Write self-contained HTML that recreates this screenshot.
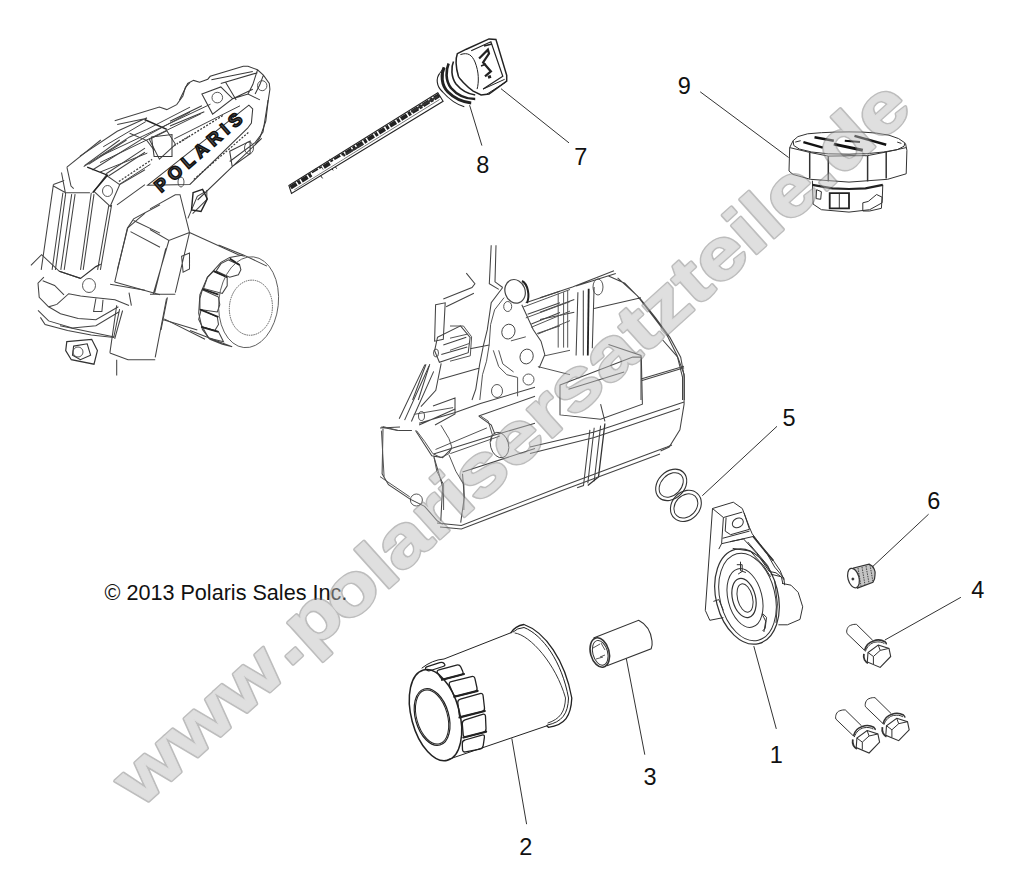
<!DOCTYPE html>
<html><head><meta charset="utf-8">
<style>
html,body{margin:0;padding:0;background:#fff;}
body{width:1015px;height:887px;overflow:hidden;position:relative;}
svg{position:absolute;left:0;top:0;}
.lbl{font-family:"Liberation Sans",sans-serif;font-size:23.5px;fill:#111;}
</style></head><body>
<svg width="1015" height="887" viewBox="0 0 1015 887">
<g id="parts" fill="none" stroke="#222" stroke-width="1" stroke-linejoin="round" stroke-linecap="round">

<g id="filter2">
<ellipse cx="435.5" cy="715.2" rx="24.1" ry="46.7" transform="rotate(-15 435.5 715.2)" stroke-width="1.5"/>
<ellipse cx="432.1" cy="717" rx="16.7" ry="29.1" transform="rotate(-15.7 432.1 717)" stroke-width="1.2"/>
<ellipse cx="432.1" cy="717" rx="15.4" ry="27.8" transform="rotate(-15.7 432.1 717)" stroke-width="1"/>
<path d="M422,668 Q432,660 444,659 L511,632.7" />
<path d="M447.8,759.6 L546.9,725.8" />
<path d="M511,632.7 Q515,626 524,624.5 C545,632 565,660 571.8,698 C571,716 565,725 548.4,727.3 L546.9,725.8" stroke-width="1.3"/>
<path d="M513,632 Q517,628 524,627.5 C543,635 562,662 568.5,698 C568,714 562,722 547.5,725" stroke-width="1"/>
<path d="M515,633 C530,635 556,664 565.5,698 C565,712 560,719 548,723" stroke-width="0.9"/>
<path d="M427.4,666.6 L439.7,662.6 Q442.6,661.7 444.1,663.5 L444.4,663.8 Q445.9,665.6 443.0,666.5 L430.6,670.5 Q427.7,671.4 426.3,669.6 L425.9,669.3 Q424.5,667.5 427.4,666.6Z M439.0,669.9 L456.6,665.1 Q459.5,664.3 460.8,667.0 L462.7,671.3 Q464.0,674.0 461.1,674.8 L444.9,679.0 Q442.0,679.8 440.4,677.3 L437.7,673.2 Q436.1,670.7 439.0,669.9Z M451.3,681.7 L471.5,676.6 Q474.4,675.9 475.0,678.8 L477.0,688.0 Q477.6,690.9 474.7,691.6 L457.2,696.0 Q454.3,696.7 453.2,693.9 L449.5,685.2 Q448.4,682.4 451.3,681.7Z M460.4,699.1 L479.9,693.6 Q482.8,692.8 483.1,695.8 L484.5,708.0 Q484.8,711.0 481.9,711.7 L462.4,716.7 Q459.5,717.4 459.2,714.4 L457.8,702.9 Q457.5,699.9 460.4,699.1Z M465.0,719.8 L482.5,714.4 Q485.4,713.5 485.5,716.5 L486.0,728.7 Q486.1,731.7 483.2,732.4 L466.3,736.8 Q463.4,737.5 463.2,734.5 L462.3,723.7 Q462.1,720.7 465.0,719.8Z M465.0,740.0 L481.9,735.1 Q484.8,734.3 484.4,737.3 L483.2,745.6 Q482.8,748.6 479.9,749.2 L465.6,751.9 Q462.7,752.5 462.5,749.5 L462.3,743.8 Q462.1,740.8 465.0,740.0Z" stroke-width="1.3"/>
<path d="M442,679.8 L464,674 M454.3,696.7 L477.6,690.9 M459.5,717.4 L484.8,711 M463.4,737.5 L486.1,731.7" stroke-width="2.2"/>

</g>
</g>
<!--GEN-->
<!--a_topleft.svg-->
<g fill="none" stroke="#444" stroke-width="1.05">
<path d="M80.0,156.1 L117.2,131.3 L147.0,117.7 M114.7,120.8 L159.4,107.1 L166.8,109.6 L176.7,104.6 L182.9,96.0 L185.4,87.3 L190.0,82.3 M117.2,124.5 L147.0,118.3 M129.6,133.2 L147.0,140.6 L154.4,150.5 M83.7,166.6 L129.6,136.9 L147.0,129.4 L190.0,107.1 M92.4,170.0 L149.4,134.4 L190.0,112.1 M149.4,139.4 L166.8,130.7 L175.5,144.3 L159.4,159.2Z"/>
<path d="M144.5,119.5 L166.8,129.4" stroke="#222" stroke-width="1.5"/>
<path d="M174.2,145.6 L190.0,135.6" stroke-dasharray="1.5 1.5" stroke-width="1.5"/>
</g>
<g fill="none" stroke="#444" stroke-width="1.05">
<path d="M66.9,167.1 L100.8,140.0 M66.9,167.1 L71.0,186.0 L73.7,188.7 M84.5,165.7 L119.7,140.0 M88.6,164.4 L126.5,140.0 M106.2,173.8 L145.0,148.1 M108.9,175.8 L145.0,152.2 M119.7,184.6 L145.0,169.8 M117.0,204.9 L145.0,184.6 M94.0,191.4 L106.2,175.2 L119.7,184.6 L110.2,206.3Z M53.4,184.6 L41.2,269.9 M62.9,192.8 L52.1,269.9 M65.6,194.1 L55.4,269.9 M71.7,194.1 L60.8,269.9 M75.1,194.1 L64.2,269.9 M91.3,192.8 L80.5,269.9 M94.0,194.1 L83.2,269.9 M108.9,204.9 L97.6,269.9 M111.6,204.9 L100.4,269.9 M53.4,186.0 L65.6,192.8 L89.9,192.8 M53.4,184.6 L64.2,180.6 M61.5,172.5 L65.6,194.1 M127.8,227.9 L145.0,213.1 M127.8,227.9 L117.3,269.9"/>
<path d="M87.2,167.1 L107.5,175.2 L92.6,192.8" stroke="#222" stroke-width="1.4"/>
</g>
<g fill="none" stroke="#3a3a3a" stroke-width="1.05">
<path d="M179.5,99.9 L184.2,90.5 L187.7,83.4 L193.6,80.4 L199.6,82.2 L207.8,79.2 L210.2,76.3 L243.3,66.2 L248.0,66.2 L257.5,69.8 L263.4,75.1 L269.3,83.4 L269.9,89.3 L268.1,101.1 L265.8,121.2 L259.9,137.8 L255.1,145.0 M257.5,69.8 L252.8,84.6 L248.0,94.0 M263.4,75.1 L259.9,84.6 L255.1,94.0 M211.4,79.8 L252.8,71.6 M220.8,83.4 L257.5,72.7 M201.9,94.0 L220.8,86.9 L232.7,98.7 L212.6,114.1Z M225.6,82.2 L236.2,99.9 M170.0,121.2 L201.9,105.8 M170.0,125.9 L204.3,111.8 M259.9,99.9 L248.0,94.0 L232.7,98.7 M232.7,98.7 L252.8,89.3"/>
<path d="M179.5,142.5 L223.2,115.3" stroke-dasharray="2 1.5" stroke-width="1.3"/>
</g>
<g fill="none" stroke="#3a3a3a" stroke-width="1.05">
<path d="M147.7,185.2 L248.9,105.1 L252.7,109.0 L251.4,123.1 L247.6,128.2 L189.9,184.5Z M197.6,200.0 L261.7,138.4 M268.1,100.0 L263.0,132.0 L255.3,142.3 L229.7,161.5 M229.7,151.2 L250.1,141.0 L250.1,153.8 L232.2,166.6Z M151.5,137.1 L172.0,134.6 L172.0,156.4 L154.1,156.4Z"/>
<path d="M193.8,179.4 L248.9,132.0" stroke-dasharray="2 1.5" stroke-width="1.2"/>
</g>
<g fill="none" stroke="#444" stroke-width="1.05">
<path d="M150.0,208.9 L175.3,194.7 L180.0,194.7 L189.5,232.6 M150.0,229.5 L168.9,240.5 L189.5,232.6 M168.9,240.5 L153.2,294.2 M165.8,248.4 L154.7,292.6 M189.5,232.6 L175.3,292.6 M150.0,294.2 L175.3,294.2 M187.9,218.4 L197.3,196.3 L205.2,191.6 M192.6,213.7 L206.8,199.5 L206.8,190.0 M189.5,232.6 L238.4,254.7 L244.7,256.3 M167.4,297.3 L161.0,330.0 M162.6,319.4 L197.3,330.0 M181.6,256.3 L189.5,253.1 L189.5,268.9 L183.1,272.1Z"/>
</g>
<g fill="none" stroke="#444" stroke-width="1.05">
<path d="M127.3,228.4 L133.6,218.9 L160.0,204.7 M127.3,228.4 L114.7,282.1 M133.6,220.5 L160.0,233.1 M130.5,231.6 L160.0,247.3 M114.7,282.1 L160.0,294.7 M122.6,310.5 L114.7,338.9"/>
</g>
<g fill="none" stroke="#444" stroke-width="1.05">
<path d="M116.7,305.3 L109.9,352.9 M166.5,298.5 L155.2,357.4 M109.9,352.9 L128.0,359.7 L155.2,359.7 M116.7,359.7 L116.7,375.6 M60.0,325.7 L114.4,337.0 M164.2,318.9 L205.0,339.3"/>
<path d="M66.8,341.6 L91.7,339.3 L97.4,350.6 L94.0,364.2 L71.3,359.7 L65.7,350.6Z" stroke="#333" stroke-width="1.2"/>
<path d="M73.6,346.1 L87.2,343.8 L90.6,355.2 L80.4,359.7 L72.5,355.2Z" stroke="#333" stroke-width="1.1"/>
</g>
<g fill="none" stroke="#444" stroke-width="1.05">
<path d="M218.5,245.0 L243.3,254.9 L266.9,266.1 M190.0,330.6 L222.3,343.0 L232.2,346.7 M199.9,294.6 L198.7,313.2 L202.4,329.4 L209.9,339.3 L222.3,344.3 L232.2,346.7 M199.9,294.6 L207.4,277.3 L221.0,262.4 L229.7,257.4 L243.3,254.9"/>
<path d="M228.5,259.9 L239.6,264.9 L240.9,269.8 L238.4,274.8 L229.7,277.3 L216.1,271.1 L221.0,263.6Z" stroke="#444"/>
<path d="M213.6,271.1 L227.2,277.3 L227.2,285.9 L222.3,293.4 L203.6,288.4 L207.4,277.3Z" stroke="#444"/>
<path d="M202.4,289.7 L218.5,297.1 L219.8,304.6 L217.3,312.0 L199.9,309.5 L199.9,298.3Z" stroke="#444"/>
<path d="M201.2,309.5 L217.3,317.0 L218.5,324.4 L214.8,330.6 L202.4,326.9 L198.7,319.4Z" stroke="#444"/>
<path d="M202.4,326.9 L218.5,331.8 L223.5,341.8 L208.6,338.1Z" stroke="#444"/>
<path d="M213.6,271.1 L227.2,277.3" stroke="#222" stroke-width="1.8"/>
<path d="M202.4,289.0 L218.5,294.6" stroke="#222" stroke-width="1.8"/>
<path d="M199.9,309.5 L218.5,317.0" stroke="#222" stroke-width="1.8"/>
<path d="M201.2,326.9 L218.5,331.8" stroke="#222" stroke-width="1.8"/>
<path d="M229.7,258.6 L239.6,264.9" stroke="#222" stroke-width="1.8"/>
</g>
<g fill="none" stroke="#444" stroke-width="1.05">
<path d="M30.9,265.4 L41.6,254.7 L59.3,271.3 L80.6,278.4 M43.9,277.2 L38.0,283.1 L39.2,297.3 L48.6,306.8 L56.9,304.4 L68.7,293.7 L80.6,296.1 L91.2,297.3 L114.9,299.7 L129.0,305.6 M42.7,280.7 L54.6,285.5 L64.0,294.9 M48.6,306.8 L60.5,313.8 L78.2,318.6 L95.9,319.8 L118.4,306.8 M38.0,310.3 L48.6,320.9 L72.3,328.0 L95.9,325.7 L119.6,311.5 M40.4,317.4 L45.1,324.5 L67.6,330.4 L91.2,335.1 L113.7,337.5 L119.6,309.1 M95.9,298.5 L93.6,311.5 L101.9,311.5 L103.0,299.7 M110.1,284.3 L145.0,290.2 M129.0,292.6 L131.4,305.6"/>
<path d="M59.3,271.3 L80.6,278.4 L95.9,266.6 L100.7,264.2" stroke="#333" stroke-width="1.2"/>
</g>
<g fill="none" stroke="#444" stroke-width="1">
<path d="M100.0,156.3 L210.5,104.2 M100.0,162.6 L201.0,113.7 M100.0,172.1 L147.3,153.1 M174.2,138.9 L240.0,105.8 M103.2,146.8 L145.8,121.6 M118.9,184.7 L150.5,164.2"/>
<path d="M118.9,181.5 L152.1,159.4" stroke-dasharray="2 1.5" stroke-width="1.3"/>
<path d="M193.1,192.6 L202.6,189.4 L207.3,198.9 L201.0,211.5 L191.5,209.9Z" stroke="#222" stroke-width="1.4"/>
</g>
<!--a_topleft_extra.svg-->
<g fill="none" stroke="#555" stroke-width="0.9">
<ellipse cx="248.6" cy="302.2" rx="29.8" ry="45.6" transform="rotate(6 248.6 302.2)"/>
<ellipse cx="250.9" cy="307.7" rx="21.5" ry="27.6" transform="rotate(5 250.9 307.7)" stroke-dasharray="1.5 0.8"/>
<ellipse cx="217.3" cy="97.6" rx="5.3" ry="5.3" stroke="#444"/>
<ellipse cx="262.2" cy="85.7" rx="4.7" ry="5" stroke="#444"/>

<ellipse cx="107.5" cy="191" rx="5" ry="5.5" stroke="#444"/>
<ellipse cx="249" cy="148" rx="4.5" ry="6" stroke="#444"/>
<ellipse cx="89" cy="285.5" rx="6.5" ry="7" stroke="#444"/>
<ellipse cx="78" cy="352" rx="5" ry="5" stroke="#444"/>
<ellipse cx="181" cy="182" rx="3" ry="5" stroke="#444"/>
<text x="0" y="0" transform="translate(160.9,193.3) rotate(-41.2)" style="font-family:'Liberation Sans',sans-serif;font-weight:bold;font-size:18px;letter-spacing:5px" fill="#555" stroke="#111" stroke-width="1.5">POLARIS</text>
</g>

<!--b_engine.svg-->
<g fill="none" stroke="#444" stroke-width="1.05">
<path d="M383.0,428.7 L382.1,473.8 L388.5,484.7 L410.1,499.1 L424.6,506.3 L437.2,520.8 L442.6,524.4 M381.2,426.9 L397.5,430.5 L411.9,430.5 M415.5,430.5 L431.8,455.8 L442.6,457.6 L451.6,448.6 M419.1,423.3 L455.2,412.5 L480.5,403.5 L535.0,387.2 M478.7,416.1 L535.0,396.2 M478.7,416.1 L491.3,425.1 L494.9,434.1 M433.6,454.0 L491.3,435.9 L535.0,423.3 M462.5,472.0 L535.0,448.6 M433.6,455.8 L439.0,473.8 L442.6,486.5 L440.8,520.8 M462.5,473.8 L464.3,497.3 L460.7,522.6 M419.1,425.1 L455.2,408.9"/>
</g>
<g fill="none" stroke="#444" stroke-width="1.05">
<path d="M662.7,340.0 L677.7,357.1 L684.1,374.3 L684.1,404.2 L679.9,429.9 L669.2,447.0 L660.6,450.9 M530.0,447.0 L594.2,432.1 L684.1,402.1 M530.0,453.5 L594.2,437.4 L679.9,408.5 M641.3,380.7 L684.1,367.8 M594.2,427.8 L587.8,483.4 M600.6,425.6 L594.2,481.3 M560.0,385.0 L632.8,357.1 L641.3,357.1 L642.4,404.2 L600.6,419.2 L560.0,414.9Z M568.5,389.2 L624.2,372.1 M600.6,404.2 L604.9,421.4"/>
<path d="M589.9,429.9 L583.5,485.6 L577.1,487.7" stroke="#444"/>
<path d="M604.9,423.5 L598.5,477.0 L587.8,485.6" stroke="#333" stroke-width="1.3"/>
</g>
<g fill="none" stroke="#444" stroke-width="1.05">
<path d="M491.2,245.3 L489.3,283.7 L498.8,289.4 M496.0,245.3 L495.0,281.8 L502.7,287.5 M502.7,287.5 L491.2,302.8 L487.3,329.7 L483.5,345.0 L479.7,364.2 L475.8,389.1 L472.0,400.0 M521.8,304.8 L533.3,329.7 L541.0,341.2 L544.8,354.6 L539.1,368.0 M435.6,304.8 L445.2,302.8 L443.3,339.3 L434.6,341.2Z M443.3,299.0 L472.0,287.5 L474.9,283.7 L466.3,273.1 M446.1,306.7 L473.9,293.3 M437.5,337.3 L460.5,325.8 L470.1,337.3 L468.2,352.7 L439.4,362.3 L434.6,350.8Z M443.3,345.0 L466.3,337.3 M441.3,354.6 L467.2,346.9 M470.1,348.8 L489.3,345.0 M426.0,364.2 L412.6,400.0 M429.8,364.2 L418.3,400.0 M439.4,379.5 L479.7,368.0 M525.7,302.8 L560.0,291.3 M527.6,314.3 L560.0,302.8 M531.4,323.9 L560.0,312.4 M537.2,333.5 L560.0,325.8"/>
</g>
<g fill="none" stroke="#444" stroke-width="1.05">
<path d="M540.0,297.7 L572.5,286.9 L614.0,270.7 M576.1,286.0 L615.8,273.4 M608.5,276.1 L624.8,283.3 L641.0,299.5 L655.4,317.6 L669.9,337.4 L680.7,357.2 L684.3,377.1 L684.3,400.0 M617.6,277.9 L637.4,295.9 L655.4,319.4 L666.3,333.8 L677.1,355.4 L682.5,377.1 L682.5,400.0 M583.3,290.5 L583.3,355.4 M594.1,286.9 L592.3,348.2 M577.9,292.3 L576.1,355.4 M540.0,312.2 L574.3,299.5 M540.0,319.4 L574.3,312.2 M594.1,308.5 L641.0,297.7 M608.5,344.6 L641.0,355.4 L641.0,400.0 M641.0,378.9 L683.9,366.3"/>
<path d="M588.7,288.7 L587.8,355.4" stroke="#222" stroke-width="1.8"/>
</g>
<g fill="none" stroke="#444" stroke-width="1.05">
<path d="M424.9,364.6 L399.2,418.8 M429.0,366.0 L404.6,420.1 M433.7,371.4 L411.4,421.5 M441.2,363.3 L435.8,390.3 L420.9,406.6 M433.0,406.0 L455.0,398.0 L455.0,414.0 L435.0,425.0 M380.0,428.0 L400.0,427.0"/>
</g>
<g fill="none" stroke="#444" stroke-width="1.05">
<path d="M437.0,523.0 L446.0,524.0 L461.4,525.5 L560.0,486.9 L667.0,447.0 L672.0,445.0 M440.0,527.0 L461.4,529.0 L560.0,491.3 L660.0,454.0"/>
</g>
<!--b_engine2.svg-->
<g fill="none" stroke="#555" stroke-width="1">
<path d="M504.1,297.6 L494.6,309.8 L490.6,324.6 L489.2,344.9 L486.5,361.2 L482.5,374.7 L479.8,400.0 M523.1,307.1 L570.0,289.5 M525.8,317.9 L570.0,301.6 M531.2,327.3 L570.0,311.1 M537.9,334.1 L570.0,320.6 M558.2,293.5 L558.2,347.6 M563.6,292.2 L563.6,347.6 M567.7,290.8 L567.7,347.6 M510.9,340.9 L525.8,336.8 M493.3,350.3 L498.7,366.6 L506.8,374.7 L517.6,377.4 L517.6,396.3 M498.7,350.3 L502.8,363.9 L513.6,372.0 M544.7,355.8 L570.0,350.3 M537.9,366.6 L570.0,374.7 M450.0,326.0 L463.5,326.0 L471.6,336.8 L470.3,355.8 L450.0,361.2 M450.0,338.2 L467.6,334.1 M450.0,350.3 L468.9,343.6"/>
</g>
<g fill="none" stroke="#555" stroke-width="1">
<path d="M416.5,430.6 L424.6,441.4 L432.8,453.6 L440.9,457.6 L449.0,453.6 L451.7,446.8 L449.0,438.7 L440.9,425.2 M434.1,457.6 L436.8,471.2 L443.6,484.7 L443.6,510.0 M449.0,454.9 L455.8,471.2 L463.9,484.7 L463.9,510.0 M435.5,449.5 L486.9,427.9 M450.3,453.6 L500.0,436.0 M480.1,415.7 L488.2,421.1 L492.3,434.6 L490.9,441.4 M382.7,426.5 L398.9,430.6 M413.8,414.4 L453.1,407.6 M380.0,476.6 L409.8,496.9 M381.4,430.6 L384.1,476.6"/>
</g>
<!--b_engine_extra.svg-->
<g fill="none" stroke="#444" stroke-width="0.9">
<ellipse cx="515.1" cy="291.3" rx="10" ry="12" transform="rotate(-20 515.1 291.3)" stroke-width="1.2"/>
<path d="M522,281 C528,284 530,296 527,303" stroke="#222" stroke-width="2"/>
<ellipse cx="508.4" cy="331.6" rx="6.5" ry="7.5" transform="rotate(20 508.4 331.6)"/>
<ellipse cx="526.6" cy="356.5" rx="6.5" ry="7.5" transform="rotate(20 526.6 356.5)"/>
<ellipse cx="528.5" cy="379.5" rx="5.5" ry="5.5"/>
<ellipse cx="497" cy="391" rx="5.5" ry="6.5"/>
<ellipse cx="507.7" cy="306.5" rx="4" ry="5"/>
<ellipse cx="499.5" cy="445" rx="9" ry="13" transform="rotate(-15 499.5 445)"/>
<ellipse cx="416.4" cy="500" rx="6" ry="6"/>
<ellipse cx="421.5" cy="416" rx="3" ry="4.5"/>
<ellipse cx="436" cy="353" rx="2.5" ry="4"/>
<ellipse cx="598" cy="287" rx="5" ry="8" />
</g>
<!--c_cap.svg-->
<g fill="none" stroke="#333" stroke-width="1">
<path d="M793.1,140.7 L797.9,136.6 L807.6,133.8 L821.4,132.7 L835.2,132.1 L849.0,131.9 L862.8,132.1 L876.6,133.1 L889.0,135.2 L898.6,138.6 L904.8,142.8 L904.1,146.2 L897.2,149.7 L883.4,152.0 L869.7,153.4 L849.0,154.2 L828.3,153.8 L811.7,152.0 L799.3,149.0 L793.8,145.5 L793.1,140.7 M793.1,140.7 L789.7,147.6 L789.0,171.0 L793.1,174.5 L810.3,179.3 L849.0,182.1 L887.6,179.3 L906.2,173.8 L906.9,150.3 L905.5,143.4 M789.7,147.6 L809.7,152.4 L828.3,156.1 L867.6,155.6 L886.2,152.0 L906.2,147.6 M812.4,180.7 L813.1,204.1 L821.4,209.7 L849.0,212.1 L869.7,209.7 L882.1,202.8 L882.8,184.8 M839.3,193.8 L839.3,208.3 M816.6,189.7 L821.4,191.7 L820.7,199.3 L816.1,198.6Z M862.8,202.8 L868.3,201.4 L876.6,194.5 L882.1,197.2 L881.4,208.3 L869.7,211.0 L862.8,211.0Z M795.2,142.1 L800.7,140.7 M897.2,142.1 L901.4,143.4"/>
<path d="M809.7,152.4 L809.7,178.6" stroke-width="1.5"/>
<path d="M828.3,156.1 L828.3,181.4" stroke-width="1.5"/>
<path d="M867.6,155.6 L867.6,181.4" stroke-width="1.5"/>
<path d="M886.2,152.0 L886.2,178.6" stroke-width="1.5"/>
<path d="M812.4,184.8 L832.4,188.3 L849.0,189.0 L865.5,188.3 L882.8,184.8" stroke="#222" stroke-width="2.2"/>
<path d="M829.7,193.1 L849.0,193.1 L849.0,208.3 L829.7,208.3Z" stroke="#222" stroke-width="1.8"/>
<path d="M803.4,142.1 L822.8,147.6" stroke="#111" stroke-width="2.5"/>
<path d="M814.5,137.2 L833.8,140.7" stroke="#111" stroke-width="2.5"/>
<path d="M833.8,144.1 L862.8,150.3" stroke="#111" stroke-width="3"/>
<path d="M854.5,135.9 L886.2,144.8" stroke="#111" stroke-width="2.5"/>
<path d="M844.8,140.7 L860.0,142.1" stroke="#111" stroke-width="2"/>
</g>
<!--d_dipstick.svg-->
<g fill="none" stroke="#222" stroke-width="1">
<path d="M315.5,168.7 L322.6,178.4 M327.0,161.6 L333.2,170.4 M329.7,158.9 L336.7,168.7"/>
<path d="M288.9,185.5 L437.8,92.8 L443.1,101.3 L291.5,193.5Z" fill="#fff" stroke="#222" stroke-width="1.1"/>
<path d="M290.6,187.5 L439.1,95.3" stroke="#222" stroke-width="4.2" stroke-dasharray="7 1.5 3 1.5"/>
<path d="M411.2,111.9 L437.8,96.3" stroke="#333" stroke-width="2"/>
<path d="M345.6,154.5 L363.3,143.8" stroke="#333" stroke-width="2"/>
<path d="M294.2,189.9 L439.6,99.5" stroke="#555" stroke-width="0.8"/>
<path d="M311.9,175.4 L322.6,169.0" stroke="#fff" stroke-width="3"/>
<path d="M331.4,163.7 L343.8,156.6" stroke="#fff" stroke-width="3"/>
</g>
<!--d_dipstick_handle.svg-->
<g fill="none" stroke="#222" stroke-width="1">
<path d="M439.7,73.3 C436,78 436,86 442.7,92 C448,98 455,104 464.3,106.8" stroke-width="1.1"/>
<path d="M439.7,73.3 L444.1,67.4" />
<path d="M444.1,67.4 C441,74 441,85 448,92 C454,98 462,102 471.2,102.9" stroke-width="3"/>
<path d="M448.6,63.5 C446,70 445,80 451,88 C457,95 466,99 475.2,99" stroke-width="2.6"/>
<path d="M453.5,61.5 C451,67 451,77 456,84 C461,90 468,94 475.2,95" stroke-width="1.6"/>
<path d="M457.4,53.6 L466.3,49.2 L489,38.9 L495.9,39.4 L506.7,75.3 L506.7,81.2 L489,94 L481.1,95 L473.2,91.1 C466,86 459,78 458.4,76.3 C456,68 455,60 457.4,53.6 Z" stroke-width="1.5"/>
<path d="M471.2,50.7 L490.9,41.8 L502.8,76.3 L483.1,89.1" stroke-width="1.2"/>
<path d="M460.4,54.6 C468,52 472,55 475,62 C479,72 479,82 477.1,89.1" />
<path d="M483.1,89.1 L504.7,79.3 M487,94 L505.7,82.2" />
<path d="M479.1,58.6 L487.9,49.7 L489,53.6 L483.1,62.5 L490.9,71.4 L485,76.3" stroke-width="2.2"/>
<path d="M488,77.3 L491,76.3" stroke-width="3"/>
<path d="M484,46 L492,44 M481,66 L486,64" stroke-width="1.5"/>
</g>
<!--e_housing.svg-->
<g fill="none" stroke="#333" stroke-width="1">
<path d="M712.5,508.5 L733.3,502.2 L742.3,508.5 L749.5,527.5 L752.2,533.8 L754.9,537.4 L767.5,554.5 L774.7,567.1 L783.8,577.9 L784.7,585.2 M712.5,508.5 L723.4,517.5 L742.3,512.1 M723.4,517.5 L721.6,543.7 L718.8,549.1 M712.5,508.5 L705.3,610.4 L709.8,620.3 L723.4,617.6 M726.1,517.5 L725.2,531.1 L730.6,534.7 L749.5,529.3 L744.1,513.0 M722.5,538.3 L749.5,531.1 M721.6,543.7 L753.1,536.5 M753.1,536.5 L772.9,559.9 L780.2,570.7 L783.8,579.7 M747.7,541.9 L767.5,565.3 L772.9,576.1 M713.4,601.4 L718.8,599.6 L723.4,610.4 M782.0,583.4 L791.0,585.2 L798.2,592.4 L802.7,606.8 L800.0,619.4 L787.4,624.8 L778.4,624.8 M740.5,561.7 L740.5,570.7 L745.9,572.5 M762.1,614.0 L765.7,621.2 L763.9,632.0"/>
</g>
<g fill="none" stroke="#333" stroke-width="1">
<path d="M730.0,541.7 L743.5,538.9 L757.1,553.8 L769.2,571.4 L776.0,572.8 L782.8,578.2 M732.7,548.4 L750.3,551.1 L763.8,566.0 L770.6,576.8 M770.6,574.1 L781.4,576.8 L782.8,583.6 M774.7,580.9 L777.4,603.9 L776.0,622.9 M762.5,613.4 L766.5,617.4 L765.2,628.3 L762.5,631.0 M736.8,564.7 L742.2,564.7 L742.2,571.4 L738.1,574.1"/>
<path d="M753.0,536.2 L765.2,551.1 L773.3,560.6" stroke-width="1.8"/>
</g>
<!--e_housing_extra.svg-->
<g fill="none" stroke="#333" stroke-width="1">
<ellipse cx="737.8" cy="522.9" rx="5.8" ry="4.5" transform="rotate(-30 737.8 522.9)"/>
<ellipse cx="747" cy="596.5" rx="31" ry="48.5" transform="rotate(-14 747 596.5)" stroke-width="1.2"/>
<ellipse cx="747.5" cy="597" rx="27.5" ry="44.5" transform="rotate(-14 747.5 597)"/>
<ellipse cx="745" cy="598" rx="17" ry="30" transform="rotate(-14 745 598)"/>
<ellipse cx="744" cy="598" rx="11.5" ry="20" transform="rotate(-14 744 598)" stroke-width="1.2"/>
<ellipse cx="745" cy="598" rx="7.5" ry="14.5" transform="rotate(-14 745 598)"/>
</g>
<!--f_small.svg-->
<defs>
<g id="bolt" fill="none" stroke="#333" stroke-width="1">
<path d="M-20.4,-28.1 L-4.2,-12.2 M-29.9,-19 L-12.3,-2.1 M-29.9,-19 C-31,-22 -29,-26.5 -26.5,-27.1 C-24,-28.2 -22,-28.3 -20.4,-28.1"/>
<path d="M-12.3,-2.1 C-11,-7 -7,-10.5 -3.5,-11.5 C0,-13 5,-12.5 8,-10.8 C9,-10 9.6,-9 9.4,-8.1" stroke-width="1.6"/>
<path d="M-13,1.3 C-13.5,4 -13,6 -12.3,7.4 C-11,9.5 -10,10.3 -8.9,10.8" stroke-width="1.8"/>
<path d="M-11.5,-1 C-10,-6 -6,-9.5 -2,-10.3 C2,-11 5,-10.5 7.5,-9" />
<path d="M1.3,-7.5 L12.1,-4.1 L13.8,4 L3.3,14.9 L-9.6,9.5 L-8.9,0 Z" stroke-width="1.1"/>
<path d="M-8.9,0 L-3.5,4 L3.3,-2.1 L12.1,-4.1 M-3.5,4 L-3.5,11.5 M1.3,-7.5 L3.3,-2.1"/>
</g>
</defs>
<use href="#bolt" transform="translate(876.9,652.5)"/>
<use href="#bolt" transform="translate(865.8,738.1)"/>
<use href="#bolt" transform="translate(895.4,725.8)"/>
<g fill="none" stroke="#333" stroke-width="1">
<path d="M853.5,568 L869.1,564.1 C874,566 876,572 875,575 C875,579 874,581 873,582.2 L857.4,588.1 Z" fill="#c4c4c4" stroke-width="1.2"/>
<path d="M858,568 L861,586 M862,567 L865,585 M866,566 L869,583 M870,565 L873,582" stroke="#444" stroke-dasharray="1.5 1"/>
<ellipse cx="853.5" cy="578.1" rx="5.5" ry="10" transform="rotate(-15 853.5 578.1)" fill="#fff" stroke-width="1.2"/>
<circle cx="852.9" cy="579" r="1" fill="#222"/>
<path d="M593.5,637.9 L638.6,620.3 C646,624 651,632 652,641 C652.5,645 652,647 651.2,648.7 L607,665.8" stroke-width="1.1"/>
<ellipse cx="599.8" cy="652.5" rx="9.3" ry="15" transform="rotate(-15 599.8 652.5)" stroke-width="1.6"/>
<ellipse cx="600.2" cy="652.8" rx="7.4" ry="12.6" transform="rotate(-15 600.2 652.8)" stroke-width="1"/>
<path d="M593,648 L600,644 M596,659 L603,657 M601,643 L605,650 M600,657 L605,655" stroke="#444" stroke-width="0.9"/>
<ellipse cx="671.2" cy="484.9" rx="17.5" ry="13.5" transform="rotate(-46.2 671.2 484.9)" stroke-width="1.1"/>
<ellipse cx="671.2" cy="484.9" rx="14" ry="10" transform="rotate(-46.2 671.2 484.9)" stroke-width="1"/>
<ellipse cx="685.9" cy="505.9" rx="16.9" ry="14" transform="rotate(-46.8 685.9 505.9)" stroke-width="1.1"/>
<ellipse cx="685.9" cy="505.9" rx="13.4" ry="10.5" transform="rotate(-46.8 685.9 505.9)" stroke-width="1"/>
</g>
<!--/GEN-->
<g id="leaders" stroke="#333" stroke-width="1" fill="none">
<line x1="501" y1="88.7" x2="569" y2="142.9"/>
<line x1="469.6" y1="105.2" x2="481.9" y2="145.6"/>
<line x1="700.2" y1="91.8" x2="788.6" y2="157.5"/>
<line x1="777" y1="426.3" x2="702.3" y2="495.7"/>
<line x1="928.6" y1="514.2" x2="872.1" y2="567.1"/>
<line x1="960.9" y1="597.3" x2="884.9" y2="640"/>
<line x1="753.8" y1="646.1" x2="776.3" y2="728.9"/>
<line x1="626.3" y1="658.6" x2="644.8" y2="754.7"/>
<line x1="511.8" y1="738.4" x2="526.6" y2="824.2"/>
</g>
<g class="lbl">
<text x="476.3" y="173.2">8</text>
<text x="574.3" y="165.1">7</text>
<text x="677.8" y="93.6">9</text>
<text x="782.5" y="425.5">5</text>
<text x="927.2" y="508.7">6</text>
<text x="971.2" y="598.1">4</text>
<text x="769.8" y="763.2">1</text>
<text x="643.4" y="785.0">3</text>
<text x="519.3" y="854.5">2</text>
</g>
<text x="104.5" y="599.7" style="font-family:'Liberation Sans',sans-serif;font-size:21.6px" fill="#111">© 2013 Polaris Sales Inc.</text>
<g transform="translate(140.2,808.5) rotate(-42) scale(1.2,1)" opacity="0.48" style="font-family:'Liberation Sans',sans-serif;font-weight:bold;font-size:71px">
<text x="0" y="0" fill="#777" stroke="#777" stroke-width="3.4" stroke-linejoin="round">www<tspan dx="5" dy="-5">.</tspan><tspan dx="0" dy="3">p</tspan><tspan dx="-4.5" dy="4">o</tspan><tspan dx="0" dy="0.5">l</tspan><tspan dx="-0.5" dy="-2.5">arisersatzteile.de</tspan></text>
<text x="0" y="0" fill="#bdbdbd" stroke="#bdbdbd" stroke-width="0.6">www<tspan dx="5" dy="-5">.</tspan><tspan dx="0" dy="3">p</tspan><tspan dx="-4.5" dy="4">o</tspan><tspan dx="0" dy="0.5">l</tspan><tspan dx="-0.5" dy="-2.5">arisersatzteile.de</tspan></text>
</g>
</svg>
</body></html>
